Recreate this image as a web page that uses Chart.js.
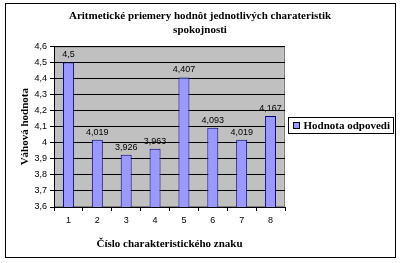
<!DOCTYPE html>
<html><head><meta charset="utf-8">
<script src="https://cdn.jsdelivr.net/npm/chart.js@4.4.0/dist/chart.umd.min.js"></script>
<style>html,body{margin:0;padding:0;background:#fff;}#wrap{width:400px;height:263px;position:relative;}</style>
</head><body><div id="wrap"><canvas id="c" width="400" height="263"></canvas></div>
<script>
const categories = ['1','2','3','4','5','6','7','8'];
const values = [4.5, 4.019, 3.926, 3.963, 4.407, 4.093, 4.019, 4.167];
const seriesName = 'Hodnota odpovedi';
const titleLines = ['Aritmetické priemery hodnôt jednotlivých charateristik','spokojnosti'];
const yTitle = 'Váhová hodnota';
const xTitle = 'Číslo charakteristického znaku';

const serif = "'Liberation Serif','Times New Roman',serif";
const sans = "'Liberation Sans',Arial,sans-serif";
const fmt = v => String(v).replace('.', ',');

const deco = {
  id: 'deco',
  beforeDraw(chart) {
    const {ctx, chartArea: a} = chart;
    ctx.save();
    ctx.fillStyle = '#c0c0c0';
    ctx.fillRect(a.left, a.top, a.right - a.left, a.bottom - a.top);
    ctx.strokeStyle = '#808080';
    ctx.lineWidth = 1;
    ctx.strokeRect(a.left + 0.5, a.top + 0.5, a.right - a.left - 1, a.bottom - a.top - 1);
    ctx.restore();
  },
  afterDraw(chart) {
    const {ctx} = chart;
    ctx.save();
    ctx.strokeStyle = '#000';
    ctx.lineWidth = 1;
    ctx.strokeRect(5.5, 3.5, 390, 254);
    const meta = chart.getDatasetMeta(0);
    ctx.font = '9px ' + sans;
    ctx.fillStyle = '#000';
    ctx.textAlign = 'center';
    ctx.textBaseline = 'bottom';
    meta.data.forEach((bar, i) => {
      ctx.fillText(fmt(values[i]), bar.x, bar.y - 3);
    });
    const a = chart.chartArea;
    const lx = a.right + 3.5, ly = 117.5, lw = 105, lh = 16;
    ctx.fillStyle = '#fff';
    ctx.fillRect(lx, ly, lw, lh);
    ctx.strokeStyle = '#000';
    ctx.strokeRect(lx, ly, lw, lh);
    ctx.fillStyle = '#9999ff';
    ctx.fillRect(lx + 5, ly + 5, 6, 6);
    ctx.strokeRect(lx + 5, ly + 5, 6, 6);
    ctx.fillStyle = '#000';
    ctx.font = 'bold 11px ' + serif;
    ctx.textAlign = 'left';
    ctx.textBaseline = 'middle';
    ctx.fillText(seriesName, lx + 15, ly + lh / 2 + 0.5);
    ctx.restore();
  }
};

new Chart(document.getElementById('c'), {
  type: 'bar',
  data: {
    labels: categories,
    datasets: [{
      label: seriesName,
      data: values,
      backgroundColor: '#9999ff',
      borderColor: '#000080',
      borderWidth: 1,
      barPercentage: 0.38,
      categoryPercentage: 1,
      yAxisID: 'y'
    }]
  },
  options: {
    responsive: false,
    animation: false,
    devicePixelRatio: 1,
    layout: {padding: {left: 0, right: 0, top: 4, bottom: 8}},
    plugins: {
      legend: {display: false},
      tooltip: {enabled: false},
      title: {
        display: true,
        text: titleLines,
        color: '#000',
        font: {family: serif, size: 11, weight: 'bold', lineHeight: 1.2},
        padding: {top: 6, bottom: 10}
      }
    },
    scales: {
      x: {
        offset: true,
        grid: {display: true, offset: true, drawOnChartArea: false, drawTicks: true, tickLength: 4, color: '#000'},
        border: {display: true, color: '#000'},
        ticks: {color: '#000', font: {family: sans, size: 9}, padding: 4, maxRotation: 0},
        title: {display: true, text: xTitle, color: '#000', font: {family: serif, size: 11, weight: 'bold'}, padding: {top: 6}},
        afterFit(s) { s.height = 48; }
      },
      y: {
        min: 3.6, max: 4.6,
        grid: {color: '#000', drawTicks: true, tickLength: 4},
        border: {display: true, color: '#000'},
        ticks: {stepSize: 0.1, color: '#000', font: {family: sans, size: 9}, padding: 3,
          callback: v => fmt(Math.round(v * 10) / 10)},
        title: {display: true, text: yTitle, color: '#000', font: {family: serif, size: 11, weight: 'bold'}, padding: {top: 19, bottom: 4}},
        afterFit(s) { s.width = 54; }
      },
      spacer: {
        position: 'right',
        display: true,
        grid: {display: false, drawOnChartArea: false},
        border: {display: false},
        ticks: {display: false},
        afterFit(s) { s.width = 115; }
      }
    }
  },
  plugins: [deco]
});
</script></body></html>
